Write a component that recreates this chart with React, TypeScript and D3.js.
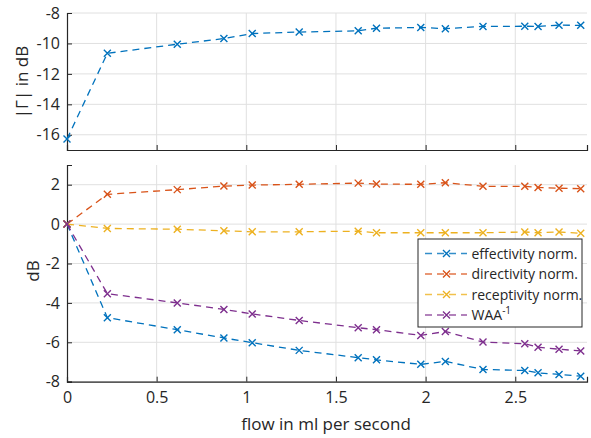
import React, { useEffect, useRef } from "react";
import * as d3 from "d3";

const flow = [0, 0.225, 0.615, 0.875, 1.033, 1.295, 1.624, 1.726, 1.973, 2.11, 2.32, 2.553, 2.627, 2.744, 2.865];
const gammaDb = [-16.28, -10.65, -10.05, -9.68, -9.35, -9.25, -9.17, -9.0, -8.95, -9.03, -8.88, -8.87, -8.88, -8.8, -8.81];
const effectivity = [0, -4.75, -5.36, -5.78, -6.02, -6.41, -6.78, -6.89, -7.12, -6.97, -7.38, -7.43, -7.55, -7.63, -7.72];
const directivity = [0, 1.51, 1.75, 1.93, 1.98, 2.02, 2.08, 2.03, 2.02, 2.1, 1.92, 1.92, 1.86, 1.82, 1.8];
const receptivity = [0, -0.22, -0.26, -0.34, -0.39, -0.39, -0.36, -0.44, -0.44, -0.44, -0.44, -0.4, -0.44, -0.4, -0.47];
const waaInv = [0, -3.53, -4.0, -4.33, -4.56, -4.89, -5.26, -5.36, -5.65, -5.45, -5.99, -6.07, -6.25, -6.35, -6.44];

const xTicks = [0, 0.5, 1, 1.5, 2, 2.5];
const topTicks = [-16, -14, -12, -10, -8];
const bottomTicks = [-8, -6, -4, -2, 0, 2];

const series = [
  { name: "effectivity norm.", values: effectivity, color: "#0072BD" },
  { name: "directivity norm.", values: directivity, color: "#D95319" },
  { name: "receptivity norm.", values: receptivity, color: "#EDB120" },
  { name: "WAA", values: waaInv, color: "#7E2F8E" },
];

const FONT = "'Open Sans', sans-serif";

export default function App() {
  const ref = useRef<SVGSVGElement>(null);

  useEffect(() => {
    document.body.style.margin = "0";
    const svg = d3.select(ref.current);
    svg.selectAll("*").remove();
    svg.attr("font-family", FONT);

    const x = d3.scaleLinear().domain([0, 2.9]).range([67, 587]);
    const yTop = d3.scaleLinear().domain([-17, -8]).range([150, 13]);
    const yBot = d3.scaleLinear().domain([-8, 3]).range([381.7, 165]);
    const axisColor = "#262626";
    const gridColor = "#e0e0e0";

    const panel = (y: d3.ScaleLinear<number, number>, ticks: number[]) => {
      const [y0, y1] = y.range();
      const g = svg.append("g");
      // grid
      g.selectAll(".gx").data(xTicks.filter((t) => t > 0)).join("line")
        .attr("x1", (d) => x(d)).attr("x2", (d) => x(d))
        .attr("y1", y1).attr("y2", y0)
        .attr("stroke", gridColor).attr("stroke-width", 1);
      g.selectAll(".gy").data(ticks).join("line")
        .attr("x1", x(0)).attr("x2", x(2.9))
        .attr("y1", (d) => y(d)).attr("y2", (d) => y(d))
        .attr("stroke", gridColor).attr("stroke-width", 1);
      // axes
      const left = g.append("g").attr("transform", `translate(${x(0)},0)`)
        .call(d3.axisLeft(y).tickValues(ticks).tickSize(-5).tickPadding(7).tickFormat((d) => String(d)));
      const bottom = g.append("g").attr("transform", `translate(0,${y0})`)
        .call(d3.axisBottom(x).tickValues(xTicks).tickSize(-5).tickPadding(10).tickFormat((d) => String(d)));
      [left, bottom].forEach((a) => {
        a.select(".domain").attr("stroke", axisColor).attr("stroke-width", 1.2);
        a.selectAll(".tick line").attr("stroke", axisColor);
        a.selectAll("text").attr("fill", axisColor).attr("font-size", 16).attr("font-family", FONT);
      });
      return { g, bottom };
    };

    const top = panel(yTop, topTicks);
    top.bottom.selectAll("text").remove();
    panel(yBot, bottomTicks);

    const drawSeries = (
      y: d3.ScaleLinear<number, number>,
      values: number[],
      color: string
    ) => {
      const pts = flow.map((f, i) => [f, values[i]] as [number, number]);
      const line = d3.line<[number, number]>().x((d) => x(d[0])).y((d) => y(d[1]));
      svg.append("path").attr("d", line(pts)).attr("fill", "none")
        .attr("stroke", color).attr("stroke-width", 1.3).attr("stroke-dasharray", "7,5");
      const s = 3.5;
      svg.append("g").selectAll("path").data(pts).join("path")
        .attr("d", (d) => {
          const cx = x(d[0]), cy = y(d[1]);
          return `M${cx - s},${cy - s}L${cx + s},${cy + s}M${cx - s},${cy + s}L${cx + s},${cy - s}`;
        })
        .attr("stroke", color).attr("stroke-width", 1.4).attr("fill", "none");
    };

    drawSeries(yTop, gammaDb, "#0072BD");
    series.forEach((s) => drawSeries(yBot, s.values, s.color));

    // axis labels
    svg.append("text").attr("transform", "translate(28,82) rotate(-90)")
      .attr("text-anchor", "middle").attr("font-size", 17).attr("fill", axisColor)
      .text("|Γ| in dB");
    svg.append("text").attr("transform", "translate(39,271) rotate(-90)")
      .attr("text-anchor", "middle").attr("font-size", 17).attr("fill", axisColor)
      .text("dB");
    svg.append("text").attr("x", 326).attr("y", 430)
      .attr("text-anchor", "middle").attr("font-size", 17).attr("fill", axisColor)
      .text("flow in ml per second");

    // legend
    const lg = svg.append("g");
    lg.append("rect").attr("x", 418).attr("y", 239).attr("width", 164).attr("height", 88)
      .attr("fill", "white").attr("stroke", axisColor).attr("stroke-width", 1);
    const rowY = d3.scalePoint<number>().domain(d3.range(series.length)).range([253.5, 315]);
    series.forEach((s, i) => {
      const cy = rowY(i)!;
      lg.append("line").attr("x1", 425).attr("x2", 467).attr("y1", cy).attr("y2", cy)
        .attr("stroke", s.color).attr("stroke-width", 1.3).attr("stroke-dasharray", "7,5")
        .attr("stroke-opacity", 0.8);
      const cx = 446.5, r = 3.5;
      lg.append("path")
        .attr("d", `M${cx - r},${cy - r}L${cx + r},${cy + r}M${cx - r},${cy + r}L${cx + r},${cy - r}`)
        .attr("stroke", s.color).attr("stroke-width", 1.4);
      const t = lg.append("text").attr("x", 471.5).attr("y", cy + 5).attr("font-size", 14)
        .attr("fill", axisColor).text(s.name);
      if (s.name === "WAA") {
        t.append("tspan").attr("dy", -6).attr("font-size", 10).text("-1");
      }
    });
  }, []);

  return <svg ref={ref} width={591} height={438} style={{ display: "block", background: "white" }} />;
}
